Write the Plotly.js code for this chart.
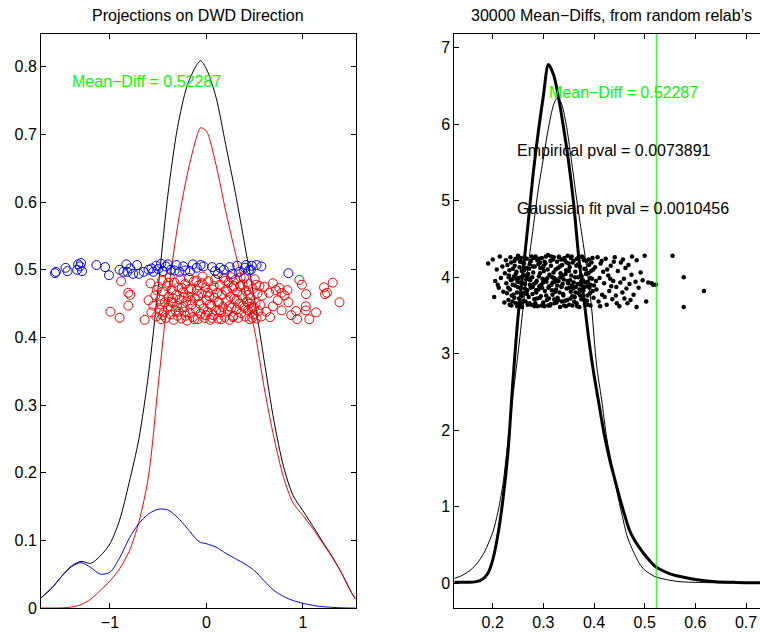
<!DOCTYPE html>
<html><head><meta charset="utf-8">
<script src="https://cdn.plot.ly/plotly-3.0.1.min.js"></script>
<style>html,body{margin:0;padding:0;overflow:hidden;background:#fff}#chart{width:770px;height:633px}</style>
</head><body><div id="chart"></div>
<script>
// ---- Left panel: projections on DWD direction ----
const kdeX = [-1.715,-1.6,-1.5,-1.4,-1.3,-1.2,-1.1,-1.0,-0.9,-0.8,-0.7,-0.6,-0.5,-0.4,-0.3,-0.2,-0.1,-0.06,0,0.1,0.2,0.3,0.4,0.5,0.6,0.7,0.8,0.9,1.0,1.1,1.2,1.3,1.4,1.5,1.546];
const kdeBlue = [0.015,0.030,0.047,0.061,0.067,0.060,0.050,0.053,0.074,0.103,0.125,0.139,0.146,0.145,0.134,0.118,0.101,0.097,0.095,0.090,0.081,0.073,0.065,0.055,0.040,0.026,0.017,0.011,0.007,0.004,0.002,0.001,0.0003,0,0];
const kdeRed = [0,0,0.0002,0.0015,0.005,0.013,0.026,0.040,0.058,0.084,0.127,0.195,0.329,0.460,0.563,0.640,0.697,0.710,0.705,0.655,0.587,0.525,0.468,0.410,0.325,0.252,0.193,0.155,0.137,0.118,0.097,0.076,0.052,0.024,0.013];
const kdeAll = [0.015,0.030,0.047,0.062,0.069,0.066,0.077,0.095,0.130,0.186,0.250,0.346,0.474,0.610,0.710,0.772,0.803,0.809,0.797,0.755,0.685,0.614,0.535,0.455,0.365,0.277,0.209,0.166,0.144,0.122,0.099,0.077,0.052,0.024,0.013];

const blueX = [-1.57,-1.56,-1.44,-1.46,-1.34,-1.33,-1.31,-1.29,-1.30,-1.14,-1.05,-1.01,-0.90,-0.86,-0.83,-0.82,-0.79,-0.76,-0.72,-0.70,-0.65,-0.60,-0.57,-0.55,-0.52,-0.50,-0.47,-0.45,-0.42,-0.40,-0.37,-0.33,-0.31,-0.28,-0.24,-0.22,-0.17,-0.14,-0.10,-0.06,-0.03,0.06,0.09,0.12,0.14,0.18,0.24,0.27,0.32,0.34,0.40,0.41,0.44,0.46,0.47,0.52,0.57,0.85];
const blueY = [0.495,0.497,0.498,0.503,0.500,0.508,0.505,0.498,0.510,0.507,0.504,0.492,0.500,0.497,0.508,0.497,0.502,0.494,0.507,0.494,0.497,0.500,0.502,0.497,0.506,0.501,0.509,0.498,0.505,0.508,0.500,0.499,0.507,0.497,0.505,0.499,0.498,0.508,0.503,0.507,0.505,0.504,0.498,0.494,0.503,0.500,0.504,0.494,0.506,0.497,0.503,0.507,0.499,0.500,0.506,0.507,0.505,0.495];

const redX = [-0.995,-0.90,-0.884,-0.81,-0.79,-0.81,-0.64,-0.58,-0.60,-0.57,
 0.69,0.72,0.65,0.757,0.78,0.78,0.69,0.66,0.93,0.94,0.964,0.99,1.033,1.03,1.03,1.067,1.137,1.22,1.23,1.25,1.31,1.38,0.85,0.88,0.81,0.74,0.84,0.62,0.60,
 -0.55,-0.53,-0.52,-0.50,-0.49,-0.48,-0.47,-0.46,-0.45,-0.44,-0.43,-0.42,-0.41,-0.40,-0.39,-0.38,-0.37,-0.36,-0.35,-0.34,-0.33,-0.32,-0.31,-0.30,-0.29,-0.28,-0.27,-0.26,-0.25,-0.24,-0.23,-0.22,-0.21,-0.20,-0.19,-0.18,-0.17,-0.16,-0.15,-0.14,-0.13,-0.12,-0.11,-0.10,-0.09,-0.08,-0.07,-0.06,-0.05,-0.04,-0.03,-0.02,-0.01,0.00,0.01,0.02,0.03,0.04,0.05,0.06,0.07,0.08,0.09,0.10,0.11,0.12,0.13,0.14,0.15,0.16,0.17,0.18,0.19,0.20,0.21,0.22,0.23,0.24,0.25,0.26,0.27,0.28,0.29,0.30,0.31,0.32,0.33,0.34,0.35,0.36,0.37,0.38,0.39,0.40,0.41,0.42,0.43,0.44,0.45,0.46,0.47,0.48,0.49,0.50,0.51,0.52,0.53,0.54,0.55,0.56,0.57,0.58,
 -0.515,-0.455,-0.395,-0.345,-0.305,-0.255,-0.215,-0.165,-0.125,-0.085,-0.045,-0.005,0.035,0.075,0.115,0.155,0.195,0.235,0.275,0.315,0.355,0.395,0.435,0.475,0.515,-0.475,-0.285,-0.105,0.055,0.215,0.375,0.495,-0.365,-0.185,0.135,0.255,0.445,-0.235,0.015,0.285];
const redY = [0.438,0.429,0.483,0.447,0.463,0.466,0.426,0.480,0.455,0.437,
 0.480,0.470,0.466,0.473,0.466,0.440,0.446,0.430,0.439,0.427,0.485,0.478,0.464,0.446,0.440,0.427,0.437,0.474,0.464,0.466,0.481,0.452,0.452,0.433,0.462,0.455,0.470,0.438,0.475,
 0.447,0.462,0.431,0.475,0.441,0.456,0.427,0.484,0.468,0.437,0.452,0.429,0.476,0.444,0.460,0.489,0.434,0.470,0.451,0.426,0.481,0.440,0.463,0.432,0.474,0.456,0.486,0.428,0.445,0.467,0.438,0.479,0.453,0.425,0.461,0.488,0.436,0.472,0.449,0.430,0.483,0.458,0.442,0.469,0.427,0.477,0.450,0.435,0.465,0.490,0.443,0.429,0.474,0.455,0.438,0.483,0.461,0.426,0.447,0.471,0.433,0.459,0.486,0.440,0.466,0.428,0.452,0.478,0.437,0.463,0.445,0.488,0.430,0.470,0.454,0.439,0.481,0.426,0.460,0.444,0.473,0.432,0.457,0.485,0.441,0.467,0.429,0.450,0.476,0.436,0.462,0.447,0.488,0.431,0.469,0.453,0.440,0.479,0.427,0.458,0.443,0.472,0.434,0.486,0.451,0.428,0.465,0.439,0.476,0.448,0.431,0.462,
 0.470,0.433,0.481,0.458,0.447,0.473,0.432,0.455,0.427,0.461,0.480,0.433,0.449,0.476,0.452,0.427,0.484,0.446,0.430,0.456,0.489,0.444,0.463,0.429,0.478,0.449,0.438,0.484,0.429,0.468,0.478,0.444,0.453,0.471,0.440,0.489,0.450,0.459,0.466,0.476];

// ---- Right panel: permutation mean-diffs ----
const meanDiff = 0.52287;
const empX = [0.1242,0.15,0.165,0.18,0.19,0.20,0.21,0.22,0.23,0.24,0.25,0.26,0.27,0.28,0.29,0.30,0.31,0.32,0.33,0.34,0.35,0.36,0.37,0.38,0.39,0.40,0.41,0.42,0.43,0.44,0.45,0.46,0.47,0.48,0.49,0.50,0.51,0.52,0.53,0.55,0.57,0.60,0.64,0.68,0.745];
const empY = [0.01,0.01,0.015,0.05,0.12,0.30,0.62,1.08,1.70,2.65,3.48,4.08,4.71,5.36,5.90,6.37,6.78,6.65,6.35,5.95,5.50,4.95,4.25,3.72,3.17,2.72,2.33,1.95,1.64,1.38,1.13,0.90,0.69,0.56,0.46,0.37,0.29,0.22,0.18,0.12,0.085,0.045,0.017,0.008,0.003];
const gaussX = [0.1242,0.14,0.16,0.18,0.20,0.21,0.22,0.23,0.24,0.25,0.26,0.27,0.28,0.29,0.30,0.31,0.32,0.327,0.335,0.345,0.355,0.365,0.375,0.385,0.395,0.405,0.415,0.425,0.435,0.445,0.455,0.465,0.475,0.49,0.50,0.52,0.55,0.57,0.62,0.745];
const gaussY = [0.06,0.10,0.19,0.36,0.66,0.92,1.28,1.85,2.45,3.00,3.60,4.15,4.65,5.15,5.55,5.95,6.25,6.34,6.28,6.00,5.55,5.05,4.60,4.15,3.61,2.85,2.40,1.90,1.55,1.20,0.90,0.62,0.45,0.25,0.17,0.085,0.035,0.017,0.005,0];

const dotX = [0.191,0.200,0.203,0.205,0.208,0.212,0.214,0.216,0.219,0.221,0.223,0.224,0.226,0.210,
 0.227,0.229,0.231,0.232,0.234,0.235,0.237,0.238,0.240,0.241,0.243,0.244,0.246,0.247,0.249,0.250,0.252,0.253,0.255,0.256,0.258,0.259,0.261,0.262,0.264,0.265,0.267,0.268,0.270,0.271,0.273,0.274,0.276,0.277,0.279,0.280,0.282,0.283,0.285,0.286,0.288,0.289,0.291,0.292,0.294,0.295,0.297,0.298,0.300,0.301,0.303,0.304,0.306,0.307,0.309,0.310,0.312,0.313,0.315,0.316,0.318,0.319,0.321,0.322,0.324,0.325,0.327,0.328,0.330,0.331,0.333,0.334,0.336,0.337,0.339,0.340,0.342,0.343,0.345,0.346,0.348,0.349,0.351,0.352,0.354,0.355,0.357,0.358,0.360,0.361,0.363,0.364,0.366,0.367,0.369,0.370,0.372,0.373,0.375,0.376,0.378,0.379,0.381,0.382,0.384,0.385,0.387,0.388,0.390,0.391,0.393,0.394,0.396,0.397,0.399,0.400,
 0.228,0.233,0.236,0.239,0.242,0.245,0.248,0.251,0.254,0.257,0.260,0.263,0.266,0.269,0.272,0.275,0.278,0.281,0.284,0.287,0.290,0.293,0.296,0.299,0.302,0.305,0.308,0.311,0.314,0.317,0.320,0.323,0.326,0.329,0.332,0.335,0.338,0.341,0.344,0.347,0.350,0.353,0.356,0.359,0.362,0.365,0.368,0.371,0.374,0.377,0.380,0.383,0.386,0.389,0.392,0.395,
 0.2305,0.2335,0.2365,0.2395,0.2425,0.2455,0.2485,0.2515,0.2545,0.2575,0.2605,0.2635,0.2665,0.2695,0.2725,0.2755,0.2785,0.2815,0.2845,0.2875,0.2905,0.2935,0.2965,0.2995,0.3025,0.3055,0.3085,0.3115,0.3145,0.3175,0.3205,0.3235,0.3265,0.3295,0.3325,0.3355,0.3385,0.3415,0.3445,0.3475,0.3505,0.3535,0.3565,0.3595,0.3625,0.3655,0.3685,0.3715,0.3745,0.3775,0.3805,0.3835,0.3865,0.3895,0.3925,0.3975,
 0.2315,0.2375,0.2435,0.2495,0.2555,0.2615,0.2675,0.2735,0.2795,0.2855,0.2915,0.2975,0.3035,0.3095,0.3155,0.3215,0.3275,0.3335,0.3395,0.3455,0.3515,0.3575,0.3635,0.3695,0.3755,0.3815,0.3875,0.3935,0.3985,0.2465,0.2645,0.2825,0.3005,0.3185,0.3365,0.3545,0.3725,0.2555,0.2935,0.3305,
 0.402,0.405,0.407,0.409,0.411,0.413,0.416,0.418,0.420,0.423,0.425,0.428,0.430,0.433,0.436,0.438,0.441,0.444,0.447,0.450,0.453,0.456,0.459,0.462,0.466,0.470,0.474,0.478,0.482,0.484,0.484,0.488,0.492,0.496,0.500,0.503,0.507,0.514,0.517,0.522,0.475,0.460,0.445,0.432,
 0.404,0.412,0.415,0.421,0.426,0.434,0.439,0.443,0.452,0.457,0.464,0.468,0.472,
 0.555,0.577,0.617,0.577];
const dotY = [4.18,4.23,3.74,3.95,4.10,3.86,4.27,3.99,4.14,3.81,3.67,4.05,4.22,3.90,
 3.92,4.16,3.70,4.02,3.84,4.26,3.63,3.97,4.11,3.77,4.21,3.89,3.66,4.07,3.94,4.28,3.72,4.13,3.85,4.00,3.61,4.19,3.79,4.09,3.91,3.68,4.24,3.83,4.04,3.74,4.17,3.96,3.64,4.27,3.87,4.06,3.71,4.14,3.93,3.80,4.22,3.62,4.01,3.88,4.12,3.75,4.25,3.98,3.67,4.08,3.82,4.18,3.94,3.70,4.29,3.86,4.03,3.63,4.15,3.90,3.77,4.23,3.99,3.66,4.10,3.84,4.20,3.73,3.95,4.26,3.61,4.05,3.88,4.16,3.78,3.97,4.22,3.69,4.09,3.85,4.28,3.92,3.64,4.13,3.81,4.02,3.75,4.19,3.93,3.68,4.07,3.87,4.24,3.62,4.00,3.79,4.14,3.90,3.71,4.27,3.96,3.83,4.11,3.65,4.04,4.21,3.76,3.94,4.16,3.86,3.63,4.08,3.98,4.25,3.73,3.89,
 3.79,4.09,3.96,3.68,4.01,4.24,3.80,3.99,4.20,3.75,3.92,4.26,3.97,3.64,4.11,3.86,4.00,4.25,3.66,3.95,4.17,3.73,3.90,4.13,3.62,4.27,3.99,3.72,4.21,3.83,4.06,3.94,3.67,4.12,3.80,4.23,3.91,3.63,4.04,3.70,4.18,3.96,4.27,3.85,3.74,4.15,3.91,3.61,4.02,3.82,4.22,3.93,3.69,4.05,3.79,4.19,
 3.86,3.64,4.19,3.90,3.73,4.04,3.62,4.24,3.93,4.08,3.69,3.85,4.12,3.99,3.66,4.21,3.78,3.91,4.27,3.72,3.84,4.05,3.63,3.93,4.20,3.76,4.10,3.88,3.65,4.00,4.26,3.81,3.97,3.70,4.14,3.87,4.02,4.25,3.62,3.95,4.08,3.72,3.89,4.21,4.00,3.66,4.17,3.84,3.94,4.26,3.70,4.10,3.88,4.23,3.99,3.82,
 4.00,3.76,4.15,3.87,3.66,4.18,3.78,3.90,4.14,3.83,4.24,3.86,3.97,3.63,4.27,3.71,3.89,4.00,3.76,4.19,3.86,3.63,3.80,4.26,4.01,3.87,3.64,3.90,4.10,3.98,4.02,3.62,4.15,3.93,3.68,4.25,3.76,4.25,4.19,4.27,
 4.13,3.84,4.26,3.68,3.99,4.18,3.77,4.07,3.92,4.24,3.64,4.02,3.82,4.15,3.71,3.95,4.26,3.87,4.08,3.62,4.19,3.80,3.98,4.12,3.66,3.91,4.03,3.77,3.94,4.22,3.61,3.86,4.06,3.96,4.28,3.68,3.93,3.92,3.90,3.90,4.27,3.72,3.66,3.98,
 3.95,3.62,4.21,3.74,4.10,3.88,4.20,3.76,3.93,4.23,3.85,4.16,3.70,
 4.28,4.00,3.82,3.61];

const FONT = 'Liberation Sans, Arial, Helvetica, sans-serif';
const traces = [
  {x: kdeX, y: kdeAll, xaxis:'x', yaxis:'y', mode:'lines', line:{color:'#000000', width:1, shape:'spline', smoothing:0.8}, hoverinfo:'skip'},
  {x: kdeX, y: kdeRed, xaxis:'x', yaxis:'y', mode:'lines', line:{color:'#ff0000', width:1, shape:'spline', smoothing:0.8}, hoverinfo:'skip'},
  {x: kdeX, y: kdeBlue, xaxis:'x', yaxis:'y', mode:'lines', line:{color:'#0000ff', width:1, shape:'spline', smoothing:0.8}, hoverinfo:'skip'},
  {x: redX, y: redY, xaxis:'x', yaxis:'y', mode:'markers', marker:{symbol:'circle-open', size:9, color:'#ff0000', line:{width:1}}, hoverinfo:'skip'},
  {x: blueX, y: blueY, xaxis:'x', yaxis:'y', mode:'markers', marker:{symbol:'circle-open', size:9, color:'#0000ff', line:{width:1}}, hoverinfo:'skip'},
  {x: dotX, y: dotY, xaxis:'x2', yaxis:'y2', mode:'markers', marker:{symbol:'circle', size:4.5, color:'#000000'}, hoverinfo:'skip'},
  {x: empX, y: empY, xaxis:'x2', yaxis:'y2', mode:'lines', line:{color:'#000000', width:3, shape:'spline', smoothing:0.8}, hoverinfo:'skip'},
  {x: gaussX, y: gaussY, xaxis:'x2', yaxis:'y2', mode:'lines', line:{color:'#000000', width:1, shape:'spline', smoothing:0.8}, hoverinfo:'skip'},
  {x: [meanDiff, meanDiff], y: [-0.327, 7.18], xaxis:'x2', yaxis:'y2', mode:'lines', line:{color:'#00ff00', width:1}, hoverinfo:'skip'}
];

const axBase = {showgrid:false, zeroline:false, showline:true, linecolor:'#000', linewidth:1, mirror:'ticks', ticks:'inside', ticklen:5, tickcolor:'#000', tickfont:{family:FONT, size:16, color:'#000'}};
const yDom = [1-608/633, 1-34/633];
const layout = {
  width:770, height:633, margin:{l:0, r:0, t:0, b:0}, paper_bgcolor:'#fff', plot_bgcolor:'#fff', showlegend:false,
  font:{family:FONT, size:16, color:'#000'},
  xaxis: Object.assign({}, axBase, {domain:[41/770, 355.5/770], range:[-1.715, 1.546], tickvals:[-1,0,1], anchor:'y'}),
  yaxis: Object.assign({}, axBase, {domain:yDom, range:[0, 0.8486], tick0:0, dtick:0.1, anchor:'x'}),
  xaxis2: Object.assign({}, axBase, {domain:[454.3/770, 768.8/770], range:[0.1242, 0.745], tick0:0, dtick:0.1, anchor:'y2'}),
  yaxis2: Object.assign({}, axBase, {domain:yDom, range:[-0.327, 7.18], tick0:0, dtick:1, anchor:'x2'}),
  annotations: [
    {xref:'paper', yref:'paper', x:198.25/770, y:1-16/633, xanchor:'center', yanchor:'middle', showarrow:false, text:'Projections on DWD Direction', font:{family:FONT, size:16, color:'#000'}},
    {xref:'paper', yref:'paper', x:611.5/770, y:1-16/633, xanchor:'center', yanchor:'middle', showarrow:false, text:'30000 Mean\u2212Diffs, from random relab\u2019s', font:{family:FONT, size:16, color:'#000'}},
    {xref:'x', yref:'y', x:-1.414, y:0.779, xanchor:'left', yanchor:'middle', showarrow:false, text:'Mean\u2212Diff = 0.52287', font:{family:FONT, size:16, color:'#00ff00'}},
    {xref:'x2', yref:'y2', x:0.307, y:6.41, xanchor:'left', yanchor:'middle', showarrow:false, text:'Mean\u2212Diff = 0.52287', font:{family:FONT, size:16, color:'#00ff00'}},
    {xref:'x2', yref:'y2', x:0.2434, y:5.66, xanchor:'left', yanchor:'middle', showarrow:false, text:'Empirical pval = 0.0073891', font:{family:FONT, size:16, color:'#000'}},
    {xref:'x2', yref:'y2', x:0.2434, y:4.90, xanchor:'left', yanchor:'middle', showarrow:false, text:'Gaussian fit pval = 0.0010456', font:{family:FONT, size:16, color:'#000'}}
  ]
};
Plotly.newPlot('chart', traces, layout, {staticPlot:true, displayModeBar:false});
</script></body></html>
